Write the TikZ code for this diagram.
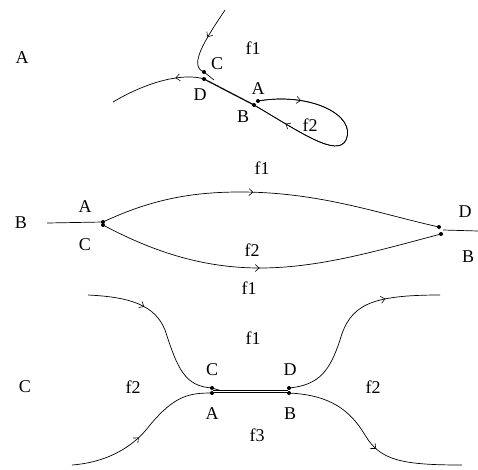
\documentclass[tikz,border=0pt]{standalone}
\usepackage{fontspec}
\setmainfont{Liberation Serif}
\usetikzlibrary{decorations.markings,arrows.meta}
\tikzset{
  curve/.style={line width=0.7pt},
  midarrow/.style={postaction={decorate},decoration={markings,mark=at position #1 with {\arrow{Straight Barb[length=4pt,width=7pt,line width=0.6pt]}}}},
  dot/.style={circle,fill=black,inner sep=0pt,minimum size=4pt},
  lbl/.style={font=\fontsize{18}{20}\selectfont,inner sep=0pt}
}
\begin{document}
\begin{tikzpicture}[x=1pt,y=-1pt]
\useasboundingbox (0,0) rectangle (478,469);
% ---------- Panel A ----------
\node[lbl] (pA) at (22,58) {A};
\node[dot] (aC) at (204,72) {};
\node[dot] (aD) at (204,79) {};
\node[dot] (aA) at (258,101) {};
\node[dot] (aB) at (254,105) {};
\coordinate (aTop) at (225,10);
\coordinate (aLeft) at (113,102);
\coordinate (aJoin) at (214,80);
\draw[curve,midarrow=0.45] (aTop) .. controls (205,40) and (188,66) .. (aC.center);
\draw[curve] (aC.center) -- (aJoin);
\draw[curve,midarrow=0.3] (aD.center) .. controls (185,73) and (150,80) .. (aLeft);
\draw[line width=1.2pt] (aD.center) -- (aB.center);
\draw[curve,midarrow=0.2] (aA.center) .. controls (310,92) and (357,115) .. (346,140)
   .. controls (337,158) and (300,132) .. (aB.center);
\draw[curve,midarrow=0.83] (aA.center) .. controls (310,92) and (357,115) .. (346,140)
   .. controls (337,158) and (300,132) .. (aB.center);
\node[lbl] (af1) at (253,48) {f1};
\node[lbl] (aCl) at (217,64) {C};
\node[lbl] (aDl) at (200,95) {D};
\node[lbl] (aAl) at (258,89) {A};
\node[lbl] (aBl) at (243,117) {B};
\node[lbl] (af2) at (310,125) {f2};
% ---------- Panel B ----------
\node[lbl] (pB) at (21,223) {B};
\node[dot] (bA) at (103,222) {};
\node[dot] (bC) at (103,225) {};
\node[dot] (bD) at (439,227) {};
\node[dot] (bB) at (441,234) {};
\coordinate (bL) at (47,223);
\coordinate (bR) at (478,231);
\coordinate (bRj) at (443,230);
\draw[curve] (bL) -- (bA.center);
\draw[curve,midarrow=0.45] (bA.center) .. controls (150,200) and (190,192) .. (240,192)
   .. controls (320,192) and (380,214) .. (bD.center);
\draw[curve,midarrow=0.47] (bC.center) .. controls (150,250) and (200,268) .. (260,268)
   .. controls (320,268) and (380,250) .. (bB.center);
\draw[curve] (bRj) -- (bR);
\node[lbl] (bAl) at (85,207) {A};
\node[lbl] (bCl) at (85,245) {C};
\node[lbl] (bf1u) at (262,168) {f1};
\node[lbl] (bf2) at (252,250) {f2};
\node[lbl] (bf1) at (249,288) {f1};
\node[lbl] (bDl) at (465,212) {D};
\node[lbl] (bBl) at (468,257) {B};
% ---------- Panel C ----------
\node[lbl] (pC) at (25,387) {C};
\node[dot] (cC) at (212,388) {};
\node[dot] (cA) at (212,393) {};
\node[dot] (cD) at (289,388) {};
\node[dot] (cB) at (289,393) {};
\coordinate (cUL) at (88,295);
\coordinate (cLL) at (72,465);
\coordinate (cUR) at (440,295);
\coordinate (cLR) at (462,465);
\coordinate (cM1) at (213,391.5);
\coordinate (cM2) at (288,391.5);
\draw[curve,midarrow=0.32] (cUL) .. controls (130,297) and (155,305) .. (165,330)
   .. controls (178,370) and (185,386) .. (cC.center) -- (222,391);
\draw[curve,midarrow=0.45] (cLL) .. controls (110,462) and (135,445) .. (150,425)
   .. controls (175,395) and (190,393) .. (cA.center);
\draw[line width=0.7pt,double,double distance=1.2pt] (cM1) -- (cM2);
\draw[curve,midarrow=0.72] (cD.center) .. controls (320,385) and (330,370) .. (340,340)
   .. controls (350,305) and (370,295) .. (cUR);
\draw[curve,midarrow=0.55] (cB.center) .. controls (330,395) and (350,410) .. (365,435)
   .. controls (380,460) and (400,465) .. (cLR);
\node[lbl] (cf1) at (253,338) {f1};
\node[lbl] (cf2l) at (133,387) {f2};
\node[lbl] (cf2r) at (373,387) {f2};
\node[lbl] (cf3) at (257,435) {f3};
\node[lbl] (cCl) at (212,370) {C};
\node[lbl] (cDl) at (290,370) {D};
\node[lbl] (cAl) at (212,414) {A};
\node[lbl] (cBl) at (290,414) {B};
\end{tikzpicture}
\end{document}
